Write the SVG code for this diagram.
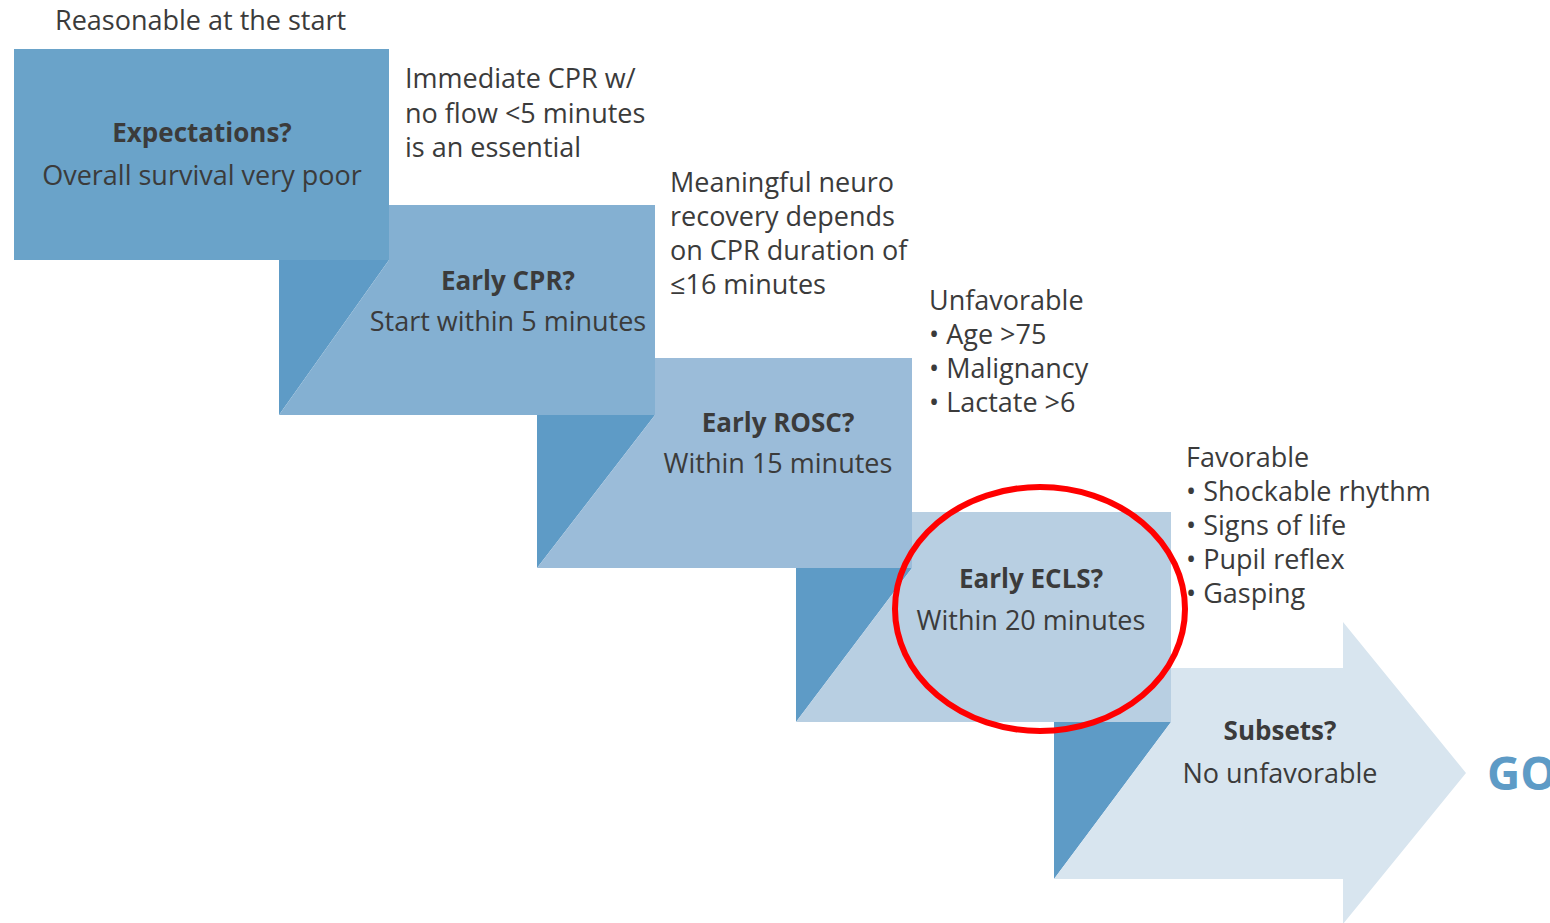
<svg xmlns="http://www.w3.org/2000/svg" width="1550" height="923" viewBox="0 0 1550 923">
<style>
text{font-family:"Open Sans","Noto Sans","Liberation Sans",sans-serif;fill:#3b3b3b;font-size:27px}
.c{text-anchor:middle}
.b{font-weight:bold;font-size:26px}
.dark{fill:#5e9bc6}
</style>
<rect width="1550" height="923" fill="#ffffff"/>
<g id="step1">
<rect x="14" y="49" width="375" height="211" fill="#6aa3c9"/>
<text class="c b" x="202" y="142">Expectations?</text>
<text class="c" x="202" y="185">Overall survival very poor</text>
</g>
<g id="step2">
<polygon class="dark" points="279,260 389,260 279,415"/>
<polygon points="389,205 655,205 655,415 279,415 389,260" fill="#84b0d2"/>
<text class="c b" x="508" y="290">Early CPR?</text>
<text class="c" x="508" y="331">Start within 5 minutes</text>
</g>
<g id="step3">
<polygon class="dark" points="537,415 655,415 537,568"/>
<polygon points="655,358 912,358 912,568 537,568 655,415" fill="#9bbcd9"/>
<text class="c b" x="778" y="432">Early ROSC?</text>
<text class="c" x="778" y="473">Within 15 minutes</text>
</g>
<g id="step4">
<polygon class="dark" points="796,568 912,568 796,722"/>
<polygon points="912,512 1171,512 1171,722 796,722 912,568" fill="#b8cfe2"/>
<text class="c b" x="1031" y="588">Early ECLS?</text>
<text class="c" x="1031" y="630">Within 20 minutes</text>
</g>
<g id="step5">
<polygon class="dark" points="1054,722 1171,722 1054,879"/>
<polygon points="1171,668 1343,668 1343,622 1466,773 1343,924 1343,879 1054,879 1171,722" fill="#d8e5ef"/>
<text class="c b" x="1280" y="740">Subsets?</text>
<text class="c" x="1280" y="783">No unfavorable</text>
</g>
<g id="go">
<text x="1487" y="790" style="font-size:46px;font-weight:bold;fill:#5e9bc6">GO</text>
</g>
<g id="labels">
<text x="55" y="30">Reasonable at the start</text>
<text x="405" y="88">Immediate CPR w/</text>
<text x="405" y="123">no flow &lt;5 minutes</text>
<text x="405" y="157">is an essential</text>
<text x="670" y="192">Meaningful neuro</text>
<text x="670" y="226">recovery depends</text>
<text x="670" y="260">on CPR duration of</text>
<text x="670" y="294">≤16 minutes</text>
<text x="929" y="310">Unfavorable</text>
<text x="929" y="344">• Age &gt;75</text>
<text x="929" y="378">• Malignancy</text>
<text x="929" y="412">• Lactate &gt;6</text>
<text x="1186" y="467">Favorable</text>
<text x="1186" y="501">• Shockable rhythm</text>
<text x="1186" y="535">• Signs of life</text>
<text x="1186" y="569">• Pupil reflex</text>
<text x="1186" y="603">• Gasping</text>
</g>
<g id="connectors">
<ellipse cx="1040" cy="609" rx="145" ry="122" fill="none" stroke="#ff0000" stroke-width="6"/>
</g>
</svg>
